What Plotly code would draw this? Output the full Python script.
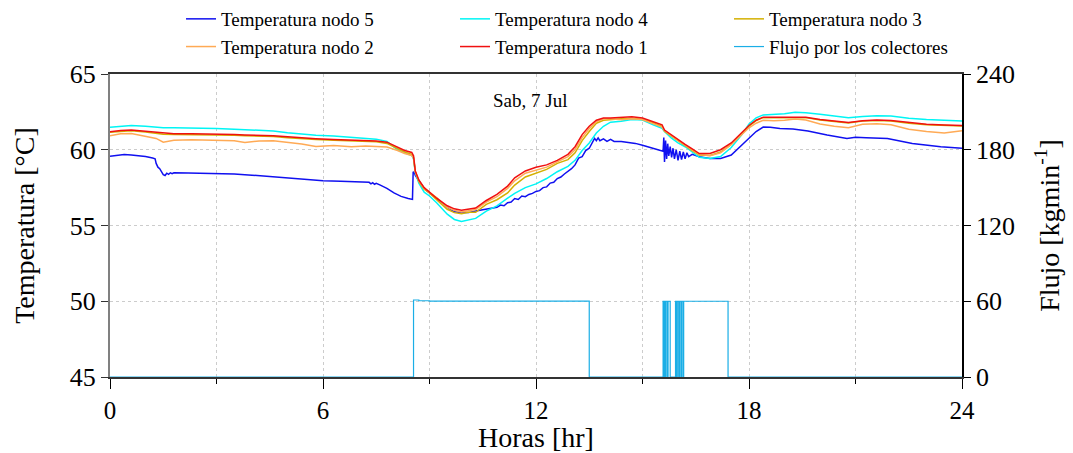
import plotly.graph_objects as go

# ---------------- data ----------------
hours_nodes = [0, 0.3, 0.6, 1.0, 1.3, 1.5, 1.8, 2.3, 3.0, 3.5, 3.8, 4.2, 4.6, 5.0, 5.4, 5.8,
               6.3, 6.8, 7.2, 7.5, 7.8, 8.1, 8.3, 8.5, 8.55, 8.6, 8.7, 8.85, 9.0, 9.2, 9.5,
               9.7, 9.9, 10.1, 10.3, 10.6, 10.9, 11.2, 11.4, 11.7, 12.0, 12.3, 12.6, 12.9,
               13.1, 13.3, 13.5, 13.7, 13.9, 14.1, 14.4, 14.7, 15.0, 15.3, 15.55, 15.62,
               15.8, 16.0, 16.2, 16.4, 16.6, 16.9, 17.2, 17.5, 17.8, 18.0, 18.2, 18.4, 18.7,
               19.0, 19.3, 19.6, 20.0, 20.4, 20.8, 21.2, 21.6, 22.0, 22.5, 23.0, 23.5, 24.0]

nodo1 = [61.19, 61.27, 61.30, 61.22, 61.12, 61.08, 61.06, 61.05, 61.04, 61.00, 60.97, 60.96,
         60.93, 60.85, 60.77, 60.73, 60.68, 60.64, 60.60, 60.57, 60.50, 60.15, 59.95, 59.82,
         59.60, 58.60, 58.00, 57.50, 57.20, 56.80, 56.30, 56.10, 56.00, 56.05, 56.15, 56.65,
         57.05, 57.60, 58.15, 58.60, 58.85, 59.00, 59.30, 59.70, 60.20, 61.00, 61.55, 61.95,
         62.10, 62.10, 62.14, 62.18, 62.10, 61.85, 61.65, 61.30, 61.00, 60.65, 60.35, 60.05,
         59.75, 59.76, 60.00, 60.45, 61.10, 61.60, 61.95, 62.15, 62.15, 62.15, 62.18, 62.15,
         62.00, 61.90, 61.80, 61.92, 61.96, 61.93, 61.78, 61.68, 61.63, 61.60]

nodo4 = [61.48, 61.55, 61.60, 61.55, 61.48, 61.46, 61.45, 61.44, 61.41, 61.36, 61.33, 61.28,
         61.24, 61.12, 61.04, 60.96, 60.91, 60.84, 60.76, 60.70, 60.55, 60.00, 59.80, 59.62,
         59.40, 58.50, 57.80, 57.20, 56.95, 56.50, 55.75, 55.40, 55.27, 55.35, 55.47, 55.95,
         56.30, 56.80, 57.12, 57.50, 57.75, 58.10, 58.55, 58.90, 59.30, 59.95, 60.45, 61.10,
         61.55, 61.82, 61.88, 62.00, 61.96, 61.65, 61.42, 61.20, 60.80, 60.45, 60.20, 59.85,
         59.50, 59.42, 59.55, 60.15, 61.00, 61.70, 62.10, 62.30, 62.33, 62.38, 62.47, 62.45,
         62.35, 62.25, 62.12, 62.20, 62.25, 62.22, 62.08, 62.00, 61.95, 61.90]

nodo3 = [61.15, 61.22, 61.25, 61.17, 61.07, 61.03, 61.01, 61.00, 60.99, 60.95, 60.92, 60.91,
         60.88, 60.80, 60.72, 60.68, 60.63, 60.59, 60.55, 60.52, 60.42, 60.05, 59.85, 59.70,
         59.50, 58.55, 57.90, 57.40, 57.15, 56.70, 56.07, 55.85, 55.78, 55.88, 55.87, 56.40,
         56.70, 57.15, 57.67, 58.20, 58.44, 58.70, 59.10, 59.35, 59.80, 60.60, 61.20, 61.75,
         61.95, 62.00, 62.05, 62.08, 62.00, 61.78, 61.55, 61.22, 60.92, 60.58, 60.28, 59.95,
         59.65, 59.62, 59.85, 60.35, 61.05, 61.55, 61.92, 62.12, 62.12, 62.12, 62.15, 62.12,
         61.97, 61.87, 61.77, 61.89, 61.93, 61.90, 61.75, 61.65, 61.60, 61.57]

nodo2 = [60.92, 61.05, 61.08, 60.90, 60.75, 60.50, 60.62, 60.66, 60.64, 60.60, 60.48, 60.58,
         60.60, 60.50, 60.38, 60.22, 60.28, 60.20, 60.24, 60.22, 60.18, 59.95, 59.75, 59.62,
         59.45, 58.55, 57.95, 57.45, 57.20, 56.85, 56.20, 56.00, 55.90, 55.98, 56.05, 56.55,
         56.90, 57.45, 57.95, 58.45, 58.66, 58.85, 59.20, 59.55, 60.00, 60.80, 61.40, 61.85,
         62.05, 62.05, 61.98, 62.05, 62.00, 61.75, 61.50, 61.25, 60.95, 60.60, 60.30, 60.00,
         59.70, 59.60, 59.80, 60.35, 61.00, 61.45, 61.75, 61.95, 61.92, 61.95, 62.03, 61.96,
         61.70, 61.55, 61.45, 61.68, 61.72, 61.65, 61.35, 61.20, 61.10, 61.26]

hours_n5 = [0, 0.2, 0.4, 0.6, 0.8, 1.0, 1.2, 1.27, 1.3, 1.35, 1.4, 1.45, 1.5, 1.55, 1.6, 1.65,
            1.7, 1.75, 1.8, 2.2, 2.6, 3.0, 3.5, 4.0, 4.5, 5.0, 5.5, 6.0, 6.5, 7.0, 7.3, 7.35,
            7.4, 7.45, 7.5, 7.6, 7.8, 8.0, 8.2, 8.4, 8.52, 8.54, 8.58, 8.6, 8.7, 8.85, 9.0,
            9.2, 9.5, 9.7, 9.9, 10.1, 10.3, 10.5, 10.7, 10.9, 11.0, 11.1, 11.2, 11.3, 11.4,
            11.5, 11.6, 11.7, 11.8, 11.9, 12.0, 12.1, 12.2, 12.3, 12.4, 12.5, 12.6, 12.7,
            12.8, 12.9, 13.0, 13.1, 13.2, 13.3, 13.4, 13.5, 13.6, 13.65, 13.7, 13.75, 13.8,
            13.9, 14.0, 14.1, 14.2, 14.4, 14.6, 14.8, 15.0, 15.3, 15.5, 15.58, 15.6, 15.62,
            15.65, 15.68, 15.71, 15.74, 15.78, 15.82, 15.86, 15.9, 15.95, 16.0, 16.05, 16.1,
            16.15, 16.2, 16.25, 16.3, 16.4, 16.6, 16.9, 17.2, 17.5, 17.75, 18.0, 18.2, 18.4,
            18.6, 18.87, 19.24, 19.66, 20.2, 20.76, 21.0, 21.3, 21.9, 22.6, 23.4, 24.0]

nodo5 = [59.57, 59.62, 59.68, 59.66, 59.62, 59.55, 59.45, 59.40, 59.10, 58.85, 58.75, 58.55,
         58.35, 58.30, 58.45, 58.38, 58.48, 58.42, 58.48, 58.47, 58.46, 58.44, 58.40, 58.32,
         58.22, 58.12, 58.03, 57.96, 57.92, 57.88, 57.85, 57.75, 57.82, 57.72, 57.78, 57.68,
         57.45, 57.15, 56.92, 56.78, 56.72, 58.55, 58.45, 58.30, 57.95, 57.45, 57.15, 56.80,
         56.20, 55.90, 55.85, 55.85, 55.95, 56.02, 56.13, 56.20, 56.35, 56.30, 56.50, 56.55,
         56.78, 56.72, 56.95, 56.90, 57.05, 57.12, 57.25, 57.30, 57.50, 57.55, 57.80, 57.85,
         58.10, 58.20, 58.40, 58.55, 58.75, 59.00, 59.45, 59.55, 59.95, 60.10, 60.55, 60.75,
         60.60, 60.78, 60.60, 60.72, 60.55, 60.68, 60.55, 60.55, 60.48, 60.42, 60.30, 60.10,
         60.00, 59.90, 60.80, 59.20, 60.60, 59.40, 60.40, 59.60, 60.20, 59.50, 60.10, 59.40,
         60.00, 59.30, 59.90, 59.35, 59.85, 59.40, 59.80, 59.55, 59.70, 59.54, 59.43, 59.43,
         59.65, 60.20, 60.75, 61.20, 61.50, 61.48, 61.40, 61.37, 61.24, 60.97, 60.75, 60.82,
         60.80, 60.75, 60.42, 60.20, 60.10]

hours_flow = [0, 8.55, 8.7, 9.0, 13.5, 15.58, 15.6, 15.62, 15.64, 15.66, 15.7, 15.72, 15.78,
              15.93, 15.96, 15.98, 16.02, 16.04, 16.08, 16.1, 16.14, 16.16, 17.41, 24]
flujo = [0, 61, 60.4, 60.1, 0, 60, 0, 60, 0, 60, 0, 60, 0, 60, 0, 60, 0, 60, 0, 60, 0, 60, 0, 0]

series_names = ["Temperatura nodo 5", "Temperatura nodo 4", "Temperatura nodo 3",
                "Temperatura nodo 2", "Temperatura nodo 1"]
flow_name = "Flujo por los colectores"
x_ticks = [0, 6, 12, 18, 24]
y_ticks = [45, 50, 55, 60, 65]
y2_ticks = [0, 60, 120, 180, 240]

# ---------------- figure ----------------
FONT = "Liberation Serif"
colors = ["#1010f0", "#00f5f5", "#d4b000", "#ffaa55", "#f01010"]
data = [(hours_n5, nodo5), (hours_nodes, nodo4), (hours_nodes, nodo3),
        (hours_nodes, nodo2), (hours_nodes, nodo1)]

fig = go.Figure()
for name, col, (xs, ys) in zip(series_names, colors, data):
    fig.add_trace(go.Scatter(x=xs, y=ys, name=name, mode="lines",
                             line=dict(color=col, width=1.5)))
fig.add_trace(go.Scatter(x=hours_flow, y=flujo, name=flow_name, mode="lines",
                         line=dict(color="#1aaee6", width=1.2, shape="hv"), yaxis="y2"))

grid = dict(showgrid=True, gridcolor="#cccccc", griddash="dot", gridwidth=1)
fig.update_layout(
    width=1073, height=453,
    margin=dict(l=110, r=111, t=74, b=76, autoexpand=False),
    plot_bgcolor="white", paper_bgcolor="white",
    font=dict(family=FONT, color="black"),
    showlegend=True,
    legend=dict(orientation="h", xref="container", yref="container",
                x=0.1687, xanchor="left", y=1.0, yanchor="top",
                entrywidth=229, entrywidthmode="pixels",
                font=dict(family=FONT, size=19), tracegroupgap=0,
                bgcolor="rgba(0,0,0,0)"),
    xaxis=dict(range=[0, 24], tickvals=x_ticks, ticks="outside", ticklen=10,
               tickcolor="black", showline=True, linecolor="#333333", linewidth=1.5,
               mirror=True, tickfont=dict(size=25),
               title=dict(text="Horas [hr]", font=dict(size=28), standoff=0),
               minor=dict(dtick=3, tick0=0, ticks="outside", ticklen=5, tickcolor="black",
                          showgrid=True, gridcolor="#cccccc", griddash="dot"),
               zeroline=False, **grid),
    yaxis=dict(range=[45, 65], tickvals=y_ticks, ticks="outside", ticklen=7,
               tickcolor="#333333", showline=True, linecolor="#808080", linewidth=2,
               tickfont=dict(size=26), zeroline=False,
               title=dict(text="Temperatura [°C]", font=dict(size=28), standoff=27),
               **grid),
    yaxis2=dict(range=[0, 240], tickvals=y2_ticks, overlaying="y", side="right",
                ticks="outside", ticklen=7, tickcolor="black", showline=True,
                linecolor="black", linewidth=1.5, showgrid=False, zeroline=False,
                tickfont=dict(size=26),
                title=dict(text="Flujo [kgmin<sup>-1</sup>]", font=dict(size=28), standoff=25)),
    annotations=[dict(text="Sab, 7 Jul", x=11.83, y=63.28, xref="x", yref="y",
                      showarrow=False, font=dict(family=FONT, size=19))],
)

fig.write_html("out.html")
